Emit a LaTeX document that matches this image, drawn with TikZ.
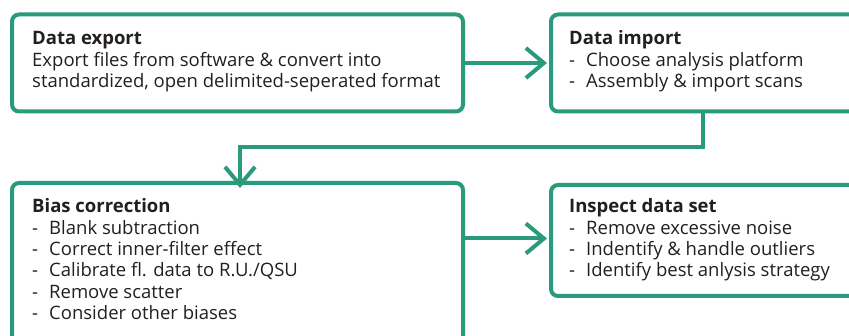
\documentclass[tikz,border=0pt]{standalone}
\usepackage{fontspec}
\setmainfont{Open Sans}
\usetikzlibrary{arrows.meta}
\definecolor{teal}{HTML}{2A9A7C}
\definecolor{ink}{HTML}{231F20}
\newcommand{\itm}[1]{\makebox[17pt][l]{-}#1}
\begin{document}
\begin{tikzpicture}[x=1pt,y=-1pt,
  box/.style={draw=teal, line width=4pt, rounded corners=7pt, outer sep=0pt, inner sep=0pt, fill=white},
  txt/.style={anchor=base west, inner sep=0pt, align=left, text=ink, font=\fontsize{18.5}{21.3}\selectfont},
  conn/.style={draw=teal, line width=4pt},
  arr/.style={conn, -{Straight Barb[length=18pt,width=30pt,line width=4pt]}}]
\useasboundingbox (0,0) rectangle (849,336);
\clip (0,0) rectangle (849,336);
\fill[white] (0,0) rectangle (849,336);
\node[box, minimum width=451pt, minimum height=97pt] (b1) at (237.5,63) {};
\node[box, minimum width=360pt, minimum height=97pt] (b2) at (731,63) {};
\node[box, minimum width=451pt, minimum height=220pt] (b3) at (237.5,293) {};
\node[box, minimum width=360pt, minimum height=111pt] (b4) at (731,240.5) {};
\node[txt] (t1) at (32,87.6) {\textbf{Data export}\\Export files from software \& convert into\\standardized, open delimited-seperated format};
\node[txt] (t2) at (569,87.6) {\textbf{Data import}\\\itm{Choose analysis platform}\\\itm{Assembly \& import scans}};
\node[txt] (t3) at (32,319.5) {\textbf{Bias correction}\\\itm{Blank subtraction}\\\itm{Correct inner-filter effect}\\\itm{Calibrate fl. data to R.U./QSU}\\\itm{Remove scatter}\\\itm{Consider other biases}};
\node[txt] (t4) at (569,276.9) {\textbf{Inspect data set}\\\itm{Remove excessive noise}\\\itm{Indentify \& handle outliers}\\\itm{Identify best anlysis strategy}};
\draw[arr, shorten >=4pt] (b1.east) -- (b2.west);
\draw[arr, shorten >=4pt] ([yshift=2pt]b4.west -| b3.east) -- ([yshift=2pt]b4.west);
\coordinate (c1) at ([xshift=152pt]b2.south west);
\coordinate (turn) at (240,147);
\draw[arr] (c1) |- (turn) -- ([yshift=-5pt]turn |- b3.north);
\end{tikzpicture}
\end{document}
